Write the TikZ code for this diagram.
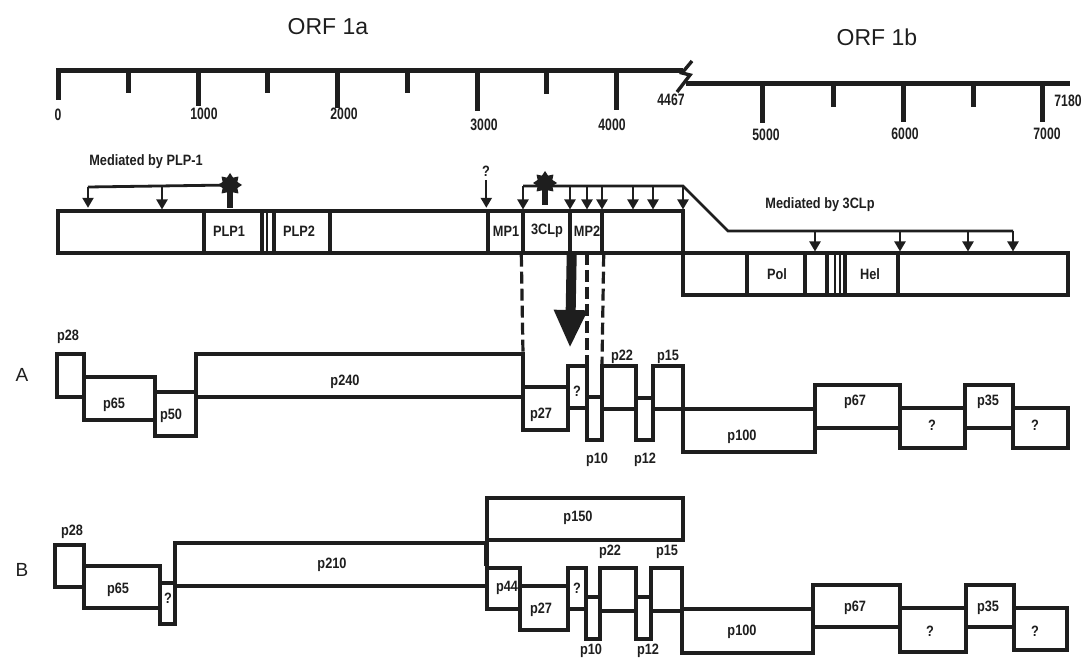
\documentclass[tikz,border=0pt]{standalone}
\usepackage{fontspec}
\setmainfont{Liberation Sans}
\newfontfamily\cond[FakeStretch=0.85]{Liberation Sans}
\newfontfamily\condt[FakeStretch=0.74]{Liberation Sans}
\usetikzlibrary{arrows.meta,shapes.geometric,fit}
\definecolor{ink}{RGB}{30,30,30}
\newcommand\pb[6][]{\node[pbox,#1,fit={(#3,#4) (#5,#6)}] (#2) {};}
\begin{document}
\begin{tikzpicture}[x=1pt,y=-1pt,
  every node/.style={inner sep=0pt,text=ink},
  pbox/.style={draw=ink,line width=3.4pt,inner sep=0pt,rectangle},
  lab/.style={font=\cond\bfseries\fontsize{15}{15}\selectfont},
  tlab/.style={font=\condt\bfseries\fontsize{16.5}{16.5}\selectfont},
  big/.style={font=\fontsize{23}{23}\selectfont},
  rowlab/.style={font=\fontsize{19}{19}\selectfont},
  sline/.style={draw=ink,line width=5pt},
  bline/.style={draw=ink,line width=2.8pt},
  sarr/.style={draw=ink,line width=2.2pt,shorten >=1.5pt,-{Triangle[width=11pt,length=10pt]}},
  dline/.style={draw=ink,line width=3.2pt,dash pattern=on 12pt off 5pt},
  prot/.style={star,star points=8,star point ratio=1.5,fill=ink,minimum size=24pt,inner sep=0pt}]
\useasboundingbox (0,0) rectangle (1084,660);

% ---------- titles
\node[big] (t1a) at (328,27) {ORF 1a};
\node[big] (t1b) at (877,37) {ORF 1b};

% ---------- scale bar
\coordinate (sa0) at (56,71); \coordinate (sa1) at (683,71);
\coordinate (sb0) at (686,84); \coordinate (sb1) at (1070,84);
\draw[sline] (sa0) -- (sa1);
\draw[sline] (sb0) -- (sb1);
\foreach \x/\y in {58/100,128/93,198/106,267/93,337/108,407/93,477/111,546/94,616/110}
  \draw[sline] (\x,71) -- (\x,\y);
\foreach \x/\y in {762/123,833/107,903/122,973/107,1042/122}
  \draw[sline] (\x,84) -- (\x,\y);
\draw[draw=ink,line width=3.4pt,line join=miter] (692,61) -- (682,73) -- (690,75) -- (677,92);
\node[tlab] (n0) at (58,115) {0};
\node[tlab] (n1) at (204,114) {1000};
\node[tlab] (n2) at (344,114) {2000};
\node[tlab] (n3) at (484,125) {3000};
\node[tlab] (n4) at (612,125) {4000};
\node[tlab] (n4467) at (671,100) {4467};
\node[tlab] (n5) at (766,135) {5000};
\node[tlab] (n6) at (905,134) {6000};
\node[tlab] (n7) at (1047,134) {7000};
\node[tlab] (n7180) at (1068,101) {7180};

% ---------- polyprotein
\pb{orfa}{58}{211}{683}{253}
\pb{plp1}{204}{211}{262}{253}
\pb{plp2}{274}{211}{330}{253}
\pb{mp1}{488}{211}{523}{253}
\pb{clp}{523}{211}{570}{253}
\pb{mp2}{570}{211}{602}{253}
\draw[draw=ink,line width=2.2pt] (plp1.north east -| 267,0) -- (plp1.south east -| 267,0);
\pb{orfb}{683}{253}{1068}{295}
\pb{pol}{747}{253}{805}{295}
\pb{hel}{845}{253}{898}{295}
\draw[draw=ink,line width=3.4pt] (orfb.north -| 827,0) -- (orfb.south -| 827,0);
\draw[draw=ink,line width=1.8pt] (orfb.north -| 835,0) -- (orfb.south -| 835,0);
\draw[draw=ink,line width=1.8pt] (orfb.north -| 840,0) -- (orfb.south -| 840,0);
\node[lab] (lplp1) at (229,231) {PLP1};
\node[lab] (lplp2) at (299,231) {PLP2};
\node[lab] (lmp1) at (506,231) {MP1};
\node[lab] (lclp) at (547,231) {3CLp};
\node[lab] (lmp2) at (587,231) {MP2};
\node[lab] (lpol) at (777,274) {Pol};
\node[lab] (lhel) at (870,274) {Hel};

% PLP-1 bracket
\node[lab] (medp) at (146,162) {Mediated by PLP-1};
\node[prot] (star1) at (230,185) {};
\coordinate (bp0) at (88,187);
\draw[bline] (bp0) -- (star1.center);
\draw[draw=ink,line width=6pt,shorten >=1.5pt] (star1.center) -- (star1 |- orfa.north);
\draw[sarr] (bp0) -- (bp0 |- orfa.north);
\draw[sarr] (162,187) -- (162,211);
% ? arrow
\node[lab] (qm) at (486,171) {?};
\draw[sarr] (qm.south -| mp1.north west) ++(0,4) coordinate (qa) -- (qa |- mp1.north);

% 3CLp bracket
\node[prot] (star2) at (545,183) {};
\coordinate (bc0) at (523,186);
\coordinate (bc1) at (683,186);
\coordinate (bc2) at (728,231);
\coordinate (bc3) at (1013,231);
\draw[bline,line join=miter] (bc0) -- (bc1) -- (bc2) -- (bc3);
\draw[draw=ink,line width=6pt,shorten >=4pt] (star2.center) -- (star2 |- orfa.north);
\foreach \x in {523,570,587,602,633,653,683}
  \draw[sarr] (\x,186) -- (\x,211);
\foreach \x in {815,900,968,1013}
  \draw[sarr] (\x,231) -- (\x,253);
\node[lab] (medc) at (820,205) {Mediated by 3CLp};

% dashed guides and big arrow
\draw[dline] (clp.south west) -- (523,354);
\draw[dline] (587,253) -- (587,366);
\draw[dline] (mp2.south east) -- (602,366);
\draw[draw=ink,line width=10pt,-{Triangle[width=31pt,length=38pt]}] (clp.south east) -- (570,348);

% ---------- row A
\node[rowlab] (rA) at (22,375) {A};
\pb{a28}{57}{354}{84}{397}
\pb{a65}{84}{377}{155}{420}
\pb{a50}{155}{392}{196}{436}
\pb{a240}{196}{354}{523}{397}
\pb{a27}{523}{387}{568}{430}
\pb{aq1}{568}{366}{587}{408}
\pb{a10}{587}{397}{602}{440}
\pb{a22}{602}{366}{636}{409}
\pb{a12}{636}{398}{653}{440}
\pb{a15}{653}{366}{683}{409}
\pb{a100}{683}{409}{815}{452}
\pb{a67}{815}{385}{900}{428}
\pb{aq2}{900}{408}{965}{448}
\pb{a35}{965}{385}{1013}{428}
\pb{aq3}{1013}{408}{1068}{448}
\node[lab] at (68,337) {p28};
\node[lab] at (114,405) {p65};
\node[lab] at (171,416) {p50};
\node[lab] at (345,382) {p240};
\node[lab] at (541,415) {p27};
\node[lab] at (577,391) {?};
\node[lab] at (597,460) {p10};
\node[lab] at (622,357) {p22};
\node[lab] at (645,460) {p12};
\node[lab] at (668,357) {p15};
\node[lab] at (742,437) {p100};
\node[lab] at (855,402) {p67};
\node[lab] at (932,425) {?};
\node[lab] at (988,402) {p35};
\node[lab] at (1035,425) {?};

% ---------- row B
\node[rowlab] (rB) at (22,570) {B};
\pb{b28}{55}{545}{84}{587}
\pb{b65}{84}{566}{160}{608}
\pb{bq0}{160}{583}{175}{624}
\pb{b210}{175}{543}{487}{586}
\pb{b150}{487}{498}{683}{540}
\pb{b44}{487}{568}{520}{609}
\draw[draw=ink,line width=2.8pt] (b150.south west) -- (b44.north west);
\pb{b27}{520}{586}{568}{630}
\pb{bq1}{568}{568}{586}{609}
\pb{b10}{586}{597}{600}{639}
\pb{b22}{600}{568}{636}{611}
\pb{b12}{636}{597}{651}{639}
\pb{b15}{651}{568}{682}{611}
\pb{b100}{682}{609}{813}{653}
\pb{b67}{813}{585}{900}{627}
\pb{bq2}{900}{608}{966}{652}
\pb{b35}{966}{585}{1014}{627}
\pb{bq3}{1014}{608}{1067}{650}
\node[lab] at (72,532) {p28};
\node[lab] at (118,590) {p65};
\node[lab] at (168,598) {?};
\node[lab] at (332,565) {p210};
\node[lab] at (578,518) {p150};
\node[lab] at (507,588) {p44};
\node[lab] at (541,610) {p27};
\node[lab] at (577,588) {?};
\node[lab] at (591,651) {p10};
\node[lab] at (648,651) {p12};
\node[lab] at (610,552) {p22};
\node[lab] at (667,552) {p15};
\node[lab] at (742,632) {p100};
\node[lab] at (855,608) {p67};
\node[lab] at (930,631) {?};
\node[lab] at (988,608) {p35};
\node[lab] at (1035,631) {?};
\end{tikzpicture}
\end{document}
